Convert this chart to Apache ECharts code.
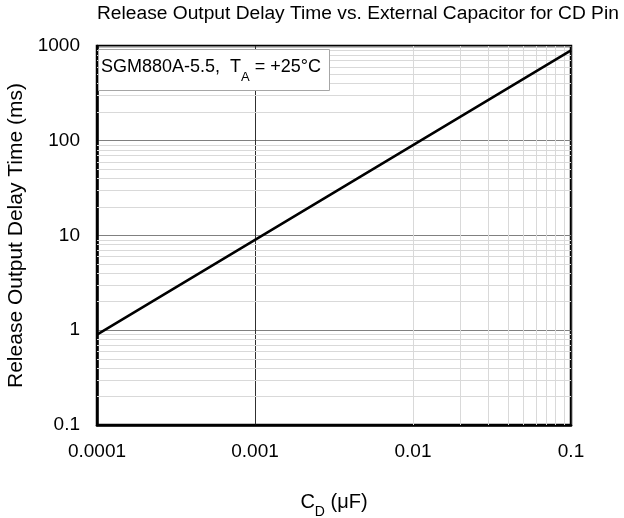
<!DOCTYPE html>
<html>
<head>
<meta charset="utf-8">
<script src="https://cdn.jsdelivr.net/npm/echarts@6/dist/echarts.min.js"></script>
<style>
html,body{margin:0;padding:0;background:#fff;}
#chart{width:624px;height:518px;}
</style>
</head>
<body>
<div id="chart"></div>
<script>
// ---- data ----
const capacitance = [0.0001, 0.001, 0.01, 0.1];        // C_D (µF)
const delayTime   = [0.9, 9, 90, 900];                  // ms
const xTickLabels = ['0.0001', '0.001', '0.01', '0.1'];
const yTickLabels = ['0.1', '1', '10', '100', '1000'];
const xMinorGrid = [0.0002,0.0003,0.0004,0.0005,0.0006,0.0007,0.0008,0.0009,
                    0.002,0.003,0.004,0.005,0.006,0.007,0.008,0.009,
                    0.02,0.03,0.04,0.05,0.06,0.07,0.08,0.09];
const yMinorGrid = [0.2,0.3,0.4,0.5,0.6,0.7,0.8,0.9,
                    2,3,4,5,6,7,8,9,
                    20,30,40,50,60,70,80,90,
                    200,300,400,500,600,700,800,900];

const FONT = '"Liberation Sans", Arial, sans-serif';
const chart = echarts.init(document.getElementById('chart'), null, {renderer: 'canvas'});

const minorLines = xMinorGrid.map(v => ({xAxis: v})).concat(yMinorGrid.map(v => ({yAxis: v})));

chart.setOption({
  animation: false,
  backgroundColor: '#fff',
  textStyle: {fontFamily: FONT},
  title: [
    {
      text: 'Release Output Delay Time vs. External Capacitor for CD Pin',
      left: 97, top: 4, padding: 0,
      textStyle: {fontFamily: FONT, fontSize: 19.2, fontWeight: 'normal', color: '#000'}
    },
    {
      text: '{a|SGM880A-5.5,  T}{s|A}{a| = +25°C}',
      left: 98, top: 47,
      padding: [9, 9, 7, 3],
      backgroundColor: '#fff',
      borderColor: '#a6a6a6',
      borderWidth: 1,
      textStyle: {
        fontWeight: 'normal',
        rich: {
          a: {fontFamily: FONT, fontSize: 18, fontWeight: 'normal', color: '#000', lineHeight: 22},
          s: {fontFamily: FONT, fontSize: 13, fontWeight: 'normal', color: '#000', lineHeight: 22, verticalAlign: 'bottom', padding: [0,0,-6,0]}
        }
      },
      z: 10
    }
  ],
  grid: {
    left: 97, right: 53, top: 46, bottom: 93,
    containLabel: false,
    outerBoundsMode: 'none',
    show: true, borderColor: '#000', borderWidth: 2.5, backgroundColor: 'transparent'
  },
  xAxis: {
    type: 'log', logBase: 10, min: 0.0001, max: 0.1,
    name: '{a|C}{s|D}{a| (μF)}',
    nameLocation: 'middle', nameGap: 66,
    nameTextStyle: {
      rich: {
        a: {fontFamily: FONT, fontSize: 20, color: '#000', lineHeight: 22},
        s: {fontFamily: FONT, fontSize: 14, color: '#000', lineHeight: 22, verticalAlign: 'bottom', padding: [0,0,-6,0]}
      }
    },
    axisLine: {show: true, lineStyle: {color: '#000', width: 2.5}},
    axisTick: {show: false},
    axisLabel: {
      fontFamily: FONT, fontSize: 19, color: '#000', margin: 17,
      showMinLabel: true, showMaxLabel: true,
      formatter: v => xTickLabels[Math.round(Math.log10(v)) + 4]
    },
    splitLine: {show: true, lineStyle: {color: '#303030', width: 1}},
    minorTick: {show: false}, minorSplitLine: {show: false}
  },
  yAxis: {
    type: 'log', logBase: 10, min: 0.1, max: 1000,
    name: 'Release Output Delay Time (ms)',
    nameLocation: 'middle', nameGap: 70,
    nameTextStyle: {fontFamily: FONT, fontSize: 21, color: '#000'},
    axisLine: {show: true, lineStyle: {color: '#000', width: 2.5}},
    axisTick: {show: false},
    axisLabel: {
      fontFamily: FONT, fontSize: 19, color: '#000', margin: 17,
      showMinLabel: true, showMaxLabel: true,
      formatter: v => yTickLabels[Math.round(Math.log10(v)) + 1]
    },
    splitLine: {show: true, lineStyle: {color: '#808080', width: 1}},
    minorTick: {show: false}, minorSplitLine: {show: false}
  },
  series: [
    {
      type: 'line', data: [], silent: true, z: 1,
      markLine: {
        silent: true, symbol: ['none', 'none'], animation: false,
        label: {show: false},
        lineStyle: {color: '#d9d9d9', type: 'solid', width: 1},
        emphasis: {disabled: true},
        data: minorLines
      }
    },
    {
      type: 'line', z: 5,
      data: capacitance.map((c, i) => [c, delayTime[i]]),
      symbol: 'none', clip: true,
      lineStyle: {color: '#000', width: 2.5}
    }
  ]
});
</script>
</body>
</html>
